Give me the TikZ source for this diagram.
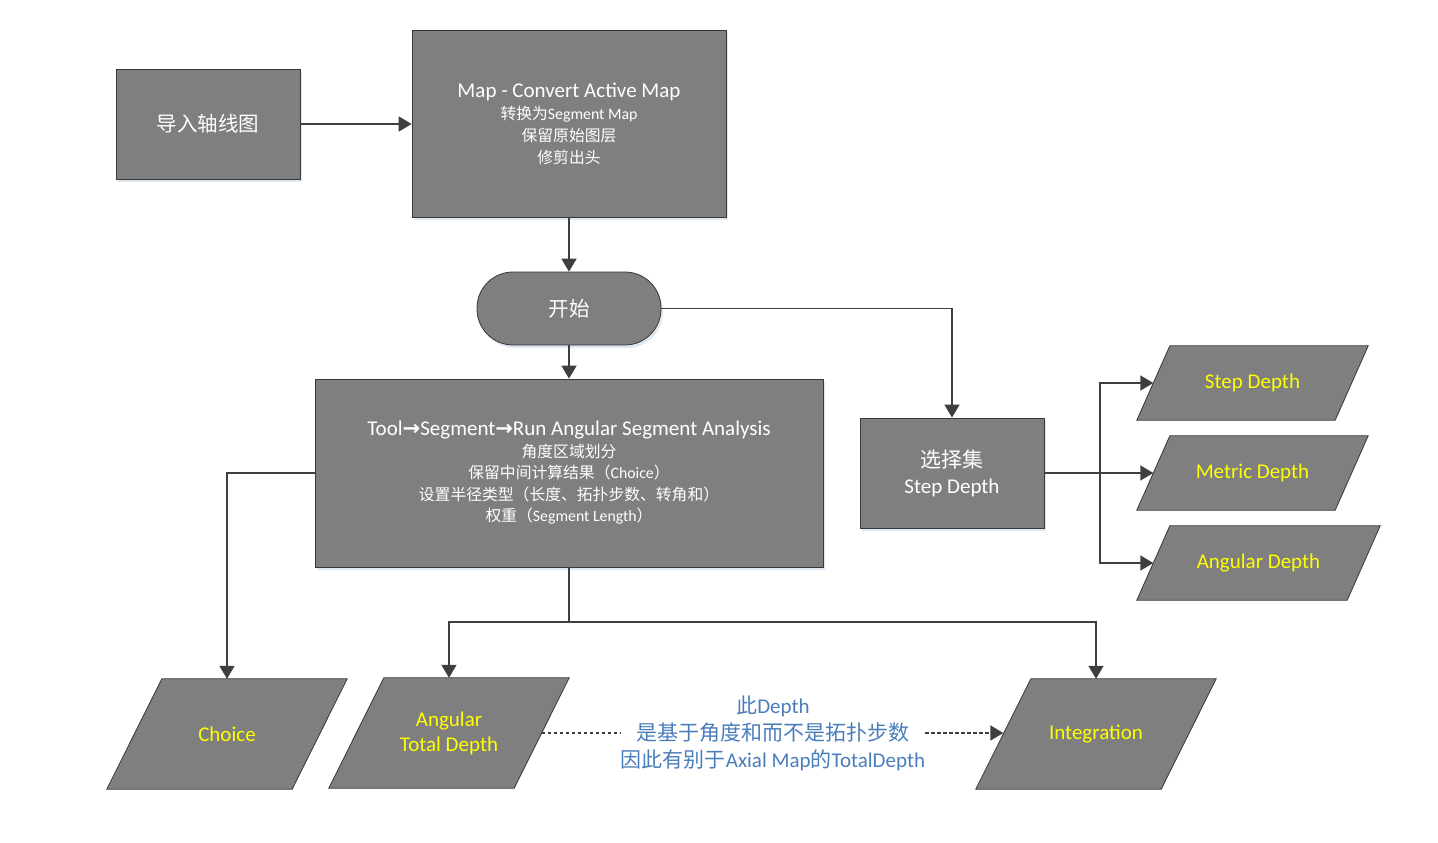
\documentclass[tikz,border=0pt]{standalone}
\usepackage{fontspec}
\setmainfont{Carlito}
\newfontfamily\zhf{Noto Sans CJK SC}
\newfontfamily\symf{DejaVu Sans}
\newcommand\zh[1]{{\zhf #1}}
\usetikzlibrary{arrows.meta,calc,backgrounds,shadows}
\definecolor{boxfill}{HTML}{7F7F7F}
\definecolor{boxline}{HTML}{383838}
\definecolor{connc}{HTML}{3F3F3F}
\definecolor{yel}{HTML}{FFFF00}
\definecolor{notec}{HTML}{4A7EBB}
\definecolor{shad}{HTML}{D2E0F0}
\tikzset{
  box/.style={draw=boxline, line width=0.8pt, fill=boxfill, text=white, align=center, inner sep=0pt,
    drop shadow={shadow xshift=2pt, shadow yshift=-3pt, fill=shad, opacity=0.7}},
  parabox/.style={inner sep=0pt, text=yel, align=center, font=\fontsize{21}{25}\selectfont},
  plainconn/.style={draw=connc, line width=1.8pt},
  conn/.style={plainconn, -{Triangle[length=13pt,width=15pt]}},
  dashconn/.style={draw=connc, line width=1.7pt, dash pattern=on 3.5pt off 2.5pt},
}
\newcommand\parashape[2]{%
  \begin{scope}[on background layer]
    \fill[shad, opacity=0.7, xshift=2pt, yshift=-3pt]
      ($(#1.north west)+(#2,0)$) -- ($(#1.north east)+(#2,0)$) --
      ($(#1.south east)-(#2,0)$) -- ($(#1.south west)-(#2,0)$) -- cycle;
    \draw[draw=boxline, line width=0.8pt, fill=boxfill]
      ($(#1.north west)+(#2,0)$) -- ($(#1.north east)+(#2,0)$) --
      ($(#1.south east)-(#2,0)$) -- ($(#1.south west)-(#2,0)$) -- cycle;
  \end{scope}}
\begin{document}
\begin{tikzpicture}[x=1pt, y=-1pt]
\useasboundingbox (0,0) rectangle (1438,843);
\begin{scope}[on background layer]
\fill[white] (0,0) rectangle (1438,843);
\end{scope}

\node[box, minimum width=184pt, minimum height=110pt, font=\fontsize{20.5}{24}\selectfont] (import) at (208,124) {\zh{导入轴线图}};
\node[box, minimum width=314pt, minimum height=187pt, font=\fontsize{15.8}{22}\selectfont] (convert) at (569,123.5)
  {{\fontsize{21}{23}\selectfont Map - Convert Active Map}\\ \zh{转换为}Segment Map\\ \zh{保留原始图层}\\ \zh{修剪出头}};
\node[box, rounded corners=36pt, minimum width=184pt, minimum height=73pt, font=\fontsize{20.5}{24}\selectfont] (start) at (569,308.5) {\zh{开始}};
\node[box, minimum width=508pt, minimum height=188pt, font=\fontsize{15.8}{21.5}\selectfont] (angular) at (569,473)
  {{\fontsize{21}{22}\selectfont Tool{\symf\bfseries →}Segment{\symf\bfseries →}Run Angular Segment Analysis}\\
   \zh{角度区域划分}\\
   \zh{保留中间计算结果（}Choice\zh{）}\\
   \zh{设置半径类型（长度、拓扑步数、转角和）}\\
   \zh{权重（}Segment Length\zh{）}};
\node[box, minimum width=184pt, minimum height=110pt, font=\fontsize{21}{26}\selectfont] (select) at (952,473) {\zh{选择集}\\Step Depth};

\node[parabox, minimum width=198pt, minimum height=74pt] (sd) at (1252.5,383) {Step Depth};
\node[parabox, minimum width=198pt, minimum height=74pt] (md) at (1252.5,473) {Metric Depth};
\node[parabox, minimum width=210pt, minimum height=74pt] (ad) at (1258.5,563) {Angular Depth};
\node[parabox, minimum width=185pt, minimum height=110pt] (choice) at (227,734) {Choice};
\node[parabox, minimum width=185pt, minimum height=110pt] (atd) at (449,733) {Angular\\Total Depth};
\node[parabox, minimum width=185pt, minimum height=110pt] (integ) at (1096,734) {Integration};
\parashape{sd}{16.5}
\parashape{md}{16.5}
\parashape{ad}{16.5}
\parashape{choice}{27.5}
\parashape{atd}{27.5}
\parashape{integ}{27.5}

\node[inner xsep=0pt, inner ysep=0pt, text=notec, align=center, font=\fontsize{21}{27}\selectfont] (note) at (773,733)
  {\zh{此}Depth\\ \zh{是基于角度和而不是拓扑步数}\\ \zh{因此有别于}Axial Map\zh{的}TotalDepth};

\draw[conn] (import.east) -- (import.east -| convert.west);
\draw[conn] (convert) -- (start);
\draw[conn] (start) -- (angular);
\draw[conn] (start.east) -| (select.north);
\draw[conn] (angular.west) -| (choice.north);
\coordinate (split) at (569,622);
\draw[plainconn] (angular.south) -- (split);
\draw[conn] (split) -| (atd.north);
\draw[conn] (split) -| (integ.north);
\coordinate (branch) at (1100,473);
\draw[conn] (select.east) -- (md.west);
\draw[conn] (branch) |- (sd.west);
\draw[conn] (branch) |- (ad.west);
\draw[dashconn] (atd.east |- note.west) -- (note.west);
\draw[dashconn, -{Triangle[length=13pt,width=15pt]}] (note.east) -- (note.east -| integ.west);
\end{tikzpicture}
\end{document}
